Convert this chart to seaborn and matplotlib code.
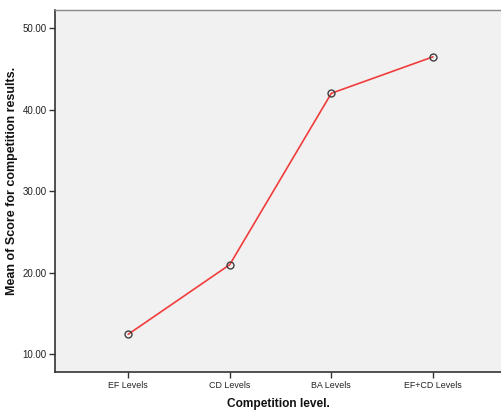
import matplotlib
matplotlib.use("Agg")
import matplotlib.pyplot as plt
import seaborn as sns
import pandas as pd

# chart values
levels = ["EF Levels", "CD Levels", "BA Levels", "EF+CD Levels"]
mean_scores = [12.45, 21.0, 42.03, 46.5]
y_ticks = [10, 20, 30, 40, 50]

df = pd.DataFrame({"level": levels, "score": mean_scores})
df["pos"] = range(len(levels))

sns.set_style("white")
plt.rcParams["font.family"] = ["Liberation Sans", "DejaVu Sans"]

fig = plt.figure(figsize=(5.01, 4.11), dpi=100)
ax = fig.add_axes([55 / 501, 38.7 / 411, 446 / 501, 362.3 / 411])
ax.set_facecolor("#f0f1f0")

sns.lineplot(x="pos", y="score", data=df, ax=ax, color="#f03c3c", linewidth=1.2,
             marker="o", markersize=5, markerfacecolor="none",
             markeredgecolor="#404040", markeredgewidth=1.0)

ax.set_xlim(-0.72, 3.67)
ax.set_ylim(7.79, 52.25)
ax.set_xticks(df["pos"])
ax.set_xticklabels(levels, fontsize=6.4, color="#222222")
ax.set_yticks(y_ticks)
ax.set_yticklabels(["%.2f" % v for v in y_ticks], fontsize=7, color="#222222")
ax.tick_params(axis="both", direction="out", length=4, width=1, color="#333333", pad=2,
               bottom=True, left=True)

ax.set_xlabel("Competition level.", fontsize=8.6, fontweight="bold", labelpad=6, color="#111111")
ax.set_ylabel("Mean of Score for competition results.", fontsize=9, fontweight="bold", color="#111111")
ax.yaxis.set_label_coords(-0.083, 0.529)

for side in ["left", "bottom"]:
    ax.spines[side].set_color("#333333")
    ax.spines[side].set_linewidth(1.2)
ax.spines["top"].set_color("#888888")
ax.spines["top"].set_linewidth(1.0)
ax.spines["right"].set_visible(False)

plt.savefig("out.png", dpi=100)
